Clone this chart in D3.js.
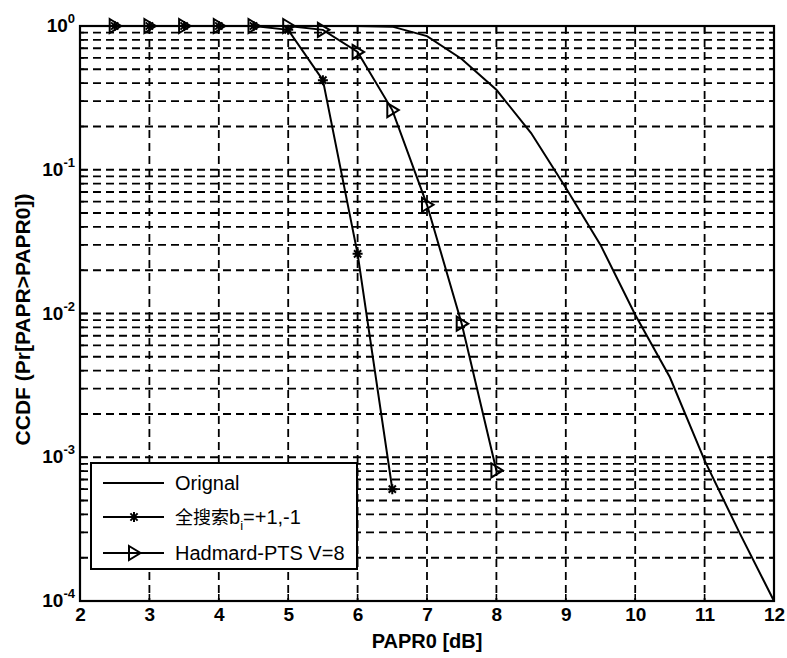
<!DOCTYPE html>
<html>
<head>
<meta charset="utf-8">
<script src="https://cdn.jsdelivr.net/npm/d3@7"></script>
<style>
  body { margin: 0; background: #fff; }
  text { font-family: "Liberation Sans", Arial, sans-serif; fill: #000; }
</style>
</head>
<body>
<svg id="chart" width="787" height="658"></svg>
<script>
// PAPR threshold (dB) and CCDF values for each scheme
const origPapr = [2, 2.5, 3, 3.5, 4, 4.5, 5, 5.5, 6, 6.5, 7, 7.5, 8, 8.5, 9, 9.5, 10, 10.5, 11, 11.5, 12];
const origCcdf = [1, 1, 1, 1, 1, 1, 1, 1, 1, 0.99, 0.85, 0.59, 0.36, 0.18, 0.075, 0.03, 0.0098, 0.0036, 0.00095, 0.0003, 0.0001];

const fullPapr = [2.5, 3, 3.5, 4, 4.5, 5, 5.5, 6, 6.5];
const fullCcdf = [1, 1, 1, 1, 1, 0.94, 0.42, 0.026, 0.0006];

const hadPapr = [2.5, 3, 3.5, 4, 4.5, 5, 5.5, 6, 6.5, 7, 7.5, 8];
const hadCcdf = [1, 1, 1, 1, 1, 1, 0.94, 0.66, 0.26, 0.057, 0.0085, 0.00081];

const xTicks = [2, 3, 4, 5, 6, 7, 8, 9, 10, 11, 12];
const yDecades = [1, 1e-1, 1e-2, 1e-3, 1e-4];
const yExponents = ["0", "-1", "-2", "-3", "-4"];

const legendLabels = ["Orignal", "全搜索b", "Hadmard-PTS V=8"];

const svg = d3.select("#chart");
const L = 80, R = 774, T = 26, B = 601;

const x = d3.scaleLinear().domain([2, 12]).range([L, R]);
const y = d3.scaleLog().domain([1e-4, 1]).range([B, T]);

// all log-grid values between decades
const minorVals = [];
for (let e = -4; e < 0; e++) {
  for (let m = 1; m <= 9; m++) minorVals.push(m * Math.pow(10, e));
}
minorVals.push(1);

const grid = svg.append("g")
  .attr("stroke", "#000")
  .attr("stroke-width", 1.8)
  .attr("stroke-dasharray", "8,5")
  .attr("fill", "none");

grid.selectAll("line.h")
  .data(minorVals.filter(v => v > 1e-4 && v < 1))
  .join("line")
  .attr("x1", L).attr("x2", R)
  .attr("y1", d => y(d)).attr("y2", d => y(d));

grid.selectAll("line.v")
  .data(xTicks.filter(v => v > 2 && v < 12))
  .join("line")
  .attr("x1", d => x(d)).attr("x2", d => x(d))
  .attr("y1", T).attr("y2", B);

// Axis ticks (inward) on all four sides
const ticks = svg.append("g").attr("stroke", "#000").attr("stroke-width", 1.6);
xTicks.forEach(v => {
  ticks.append("line").attr("x1", x(v)).attr("x2", x(v)).attr("y1", B).attr("y2", B - 7);
  ticks.append("line").attr("x1", x(v)).attr("x2", x(v)).attr("y1", T).attr("y2", T + 7);
});
minorVals.forEach(v => {
  const len = yDecades.includes(v) ? 7 : 4;
  ticks.append("line").attr("x1", L).attr("x2", L + len).attr("y1", y(v)).attr("y2", y(v));
  ticks.append("line").attr("x1", R).attr("x2", R - len).attr("y1", y(v)).attr("y2", y(v));
});

// x tick labels via d3 axis
const xAxis = svg.append("g")
  .attr("transform", `translate(0,${B})`)
  .call(d3.axisBottom(x).tickValues(xTicks).tickSize(0).tickPadding(7).tickFormat(d3.format("d")));
xAxis.select(".domain").remove();
xAxis.selectAll("text")
  .attr("font-family", "'Liberation Sans', Arial, sans-serif")
  .attr("font-size", 19).attr("font-weight", "bold").attr("fill", "#000");

// y tick labels 10^k
const yl = svg.append("g");
yDecades.forEach((v, i) => {
  const t = yl.append("text")
    .attr("x", 75).attr("y", y(v) + 6)
    .attr("text-anchor", "end")
    .attr("font-size", 19).attr("font-weight", "bold");
  t.append("tspan").text("10");
  t.append("tspan").attr("dy", -9).attr("font-size", 13).text(yExponents[i]);
});

// Axis labels
svg.append("text")
  .attr("x", (L + R) / 2).attr("y", 648)
  .attr("text-anchor", "middle")
  .attr("font-size", 20).attr("font-weight", "bold")
  .text("PAPR0 [dB]");

svg.append("text")
  .attr("transform", `translate(30,${(T + B) / 2 + 6}) rotate(-90)`)
  .attr("text-anchor", "middle")
  .attr("font-size", 21).attr("font-weight", "bold")
  .text("CCDF (Pr[PAPR>PAPR0])");

// Curves
const line = d3.line().x(d => x(d[0])).y(d => y(d[1]));
const zip = (a, b) => a.map((v, i) => [v, b[i]]);

const curves = svg.append("g").attr("fill", "none").attr("stroke", "#000").attr("stroke-width", 2);
curves.append("path").attr("d", line(zip(origPapr, origCcdf)));
curves.append("path").attr("d", line(zip(fullPapr, fullCcdf)));
curves.append("path").attr("d", line(zip(hadPapr, hadCcdf)));

// Marker shapes
function starPath(cx, cy, r) {
  const d = r * 0.72;
  return `M${cx - r},${cy}L${cx + r},${cy}M${cx},${cy - r}L${cx},${cy + r}` +
         `M${cx - d},${cy - d}L${cx + d},${cy + d}M${cx - d},${cy + d}L${cx + d},${cy - d}`;
}
function triPath(cx, cy) {
  return `M${cx - 5},${cy - 7}L${cx + 6.5},${cy}L${cx - 5},${cy + 7}Z`;
}

const marks = svg.append("g").attr("fill", "none").attr("stroke", "#000").attr("stroke-width", 2);
zip(fullPapr, fullCcdf).forEach(d => {
  marks.append("path").attr("d", starPath(x(d[0]), y(d[1]), 5));
});
zip(hadPapr, hadCcdf).forEach(d => {
  marks.append("path").attr("d", triPath(x(d[0]), y(d[1])));
});

// Box
svg.append("rect")
  .attr("x", L).attr("y", T).attr("width", R - L).attr("height", B - T)
  .attr("fill", "none").attr("stroke", "#000").attr("stroke-width", 2.2);

// Legend
const lg = svg.append("g");
lg.append("rect")
  .attr("x", 91).attr("y", 463).attr("width", 266).attr("height", 106)
  .attr("fill", "#fff").attr("stroke", "#000").attr("stroke-width", 2);

const rowsY = [483, 517, 553];
rowsY.forEach(ry => {
  lg.append("line").attr("x1", 103).attr("x2", 164).attr("y1", ry).attr("y2", ry)
    .attr("stroke", "#000").attr("stroke-width", 2);
});
lg.append("path").attr("d", starPath(134, rowsY[1], 5))
  .attr("fill", "none").attr("stroke", "#000").attr("stroke-width", 2);
lg.append("path").attr("d", triPath(134, rowsY[2]))
  .attr("fill", "none").attr("stroke", "#000").attr("stroke-width", 2);

lg.append("text").attr("x", 175).attr("y", rowsY[0] + 7).attr("font-size", 20).text(legendLabels[0]);

const t2 = lg.append("text").attr("x", 175).attr("y", rowsY[1] + 7).attr("font-size", 20);
t2.append("tspan").attr("font-family", "'Noto Sans CJK SC', sans-serif").attr("font-size", 18).text("全搜索");
t2.append("tspan").text("b");
t2.append("tspan").attr("dy", 6).attr("font-size", 13).text("i");
t2.append("tspan").attr("dy", -6).text("=+1,-1");

lg.append("text").attr("x", 175).attr("y", rowsY[2] + 7).attr("font-size", 20).text(legendLabels[2]);
</script>
</body>
</html>
